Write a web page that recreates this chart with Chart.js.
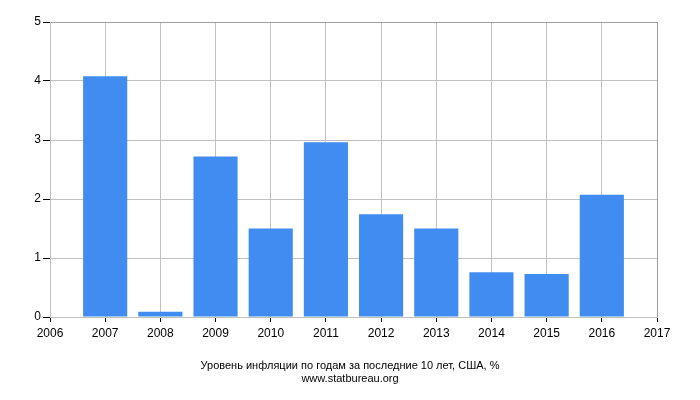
<!DOCTYPE html>
<html>
<head>
<meta charset="utf-8">
<script src="https://cdn.jsdelivr.net/npm/chart.js@4.4.1/dist/chart.umd.min.js"></script>
<style>
    html, body { margin: 0; padding: 0; background: #fff; }
    #wrap { width: 700px; height: 400px; }
</style>
</head>
<body>
<div id="wrap"><canvas id="inflation"></canvas></div>
<script>
    // Data
    var years = ["2006", "2007", "2008", "2009", "2010", "2011", "2012", "2013", "2014", "2015", "2016", "2017"];
    var inflation = [null, 4.08, 0.09, 2.72, 1.50, 2.96, 1.74, 1.50, 0.76, 0.73, 2.07, null];
    var captionLines = ["Уровень инфляции по годам за последние 10 лет, США, %", "www.statbureau.org"];

    var lightGrid = "#c0c0c0";
    var darkGrid = "#a0a0a0";

    var ctx = document.getElementById("inflation").getContext("2d");
    var chart = new Chart(ctx, {
        type: "bar",
        data: {
            labels: years,
            datasets: [{
                data: inflation,
                backgroundColor: "#418cf0",
                barPercentage: 0.8,
                categoryPercentage: 1.0
            }]
        },
        options: {
            responsive: true,
            maintainAspectRatio: false,
            animation: false,
            layout: {
                padding: { top: 22, right: 0, bottom: 14, left: 0 }
            },
            plugins: {
                legend: { display: false },
                tooltip: { enabled: false },
                title: {
                    display: true,
                    position: "bottom",
                    text: captionLines,
                    color: "#000",
                    font: { family: "Liberation Sans", size: 11, weight: "normal", lineHeight: 1.2 },
                    padding: 0
                }
            },
            scales: {
                x: {
                    offset: false,
                    grid: {
                        offset: false,
                        color: function (c) {
                            return c.index === years.length - 1 ? darkGrid : lightGrid;
                        },
                        tickColor: "#000",
                        tickLength: 5
                    },
                    border: { color: lightGrid },
                    ticks: {
                        color: "#000",
                        font: { family: "Liberation Sans", size: 12 },
                        padding: 4,
                        maxRotation: 0,
                        autoSkip: false
                    },
                    afterFit: function (scale) { scale.height = 42.6; }
                },
                y: {
                    min: 0,
                    max: 5,
                    grid: {
                        color: function (c) {
                            return c.tick && c.tick.value === 5 ? darkGrid : lightGrid;
                        },
                        tickColor: "#000",
                        tickLength: 7
                    },
                    border: { color: lightGrid },
                    ticks: {
                        stepSize: 1,
                        color: "#000",
                        font: { family: "Liberation Sans", size: 12 },
                        padding: 2
                    },
                    afterFit: function (scale) { scale.width = 50; }
                },
                // empty right margin so the caption stays centred on the page
                yRight: {
                    position: "right",
                    min: 0,
                    max: 5,
                    grid: { display: false, drawTicks: false },
                    border: { display: false },
                    ticks: { display: false },
                    afterFit: function (scale) { scale.width = 43; }
                }
            }
        }
    });
</script>
</body>
</html>
